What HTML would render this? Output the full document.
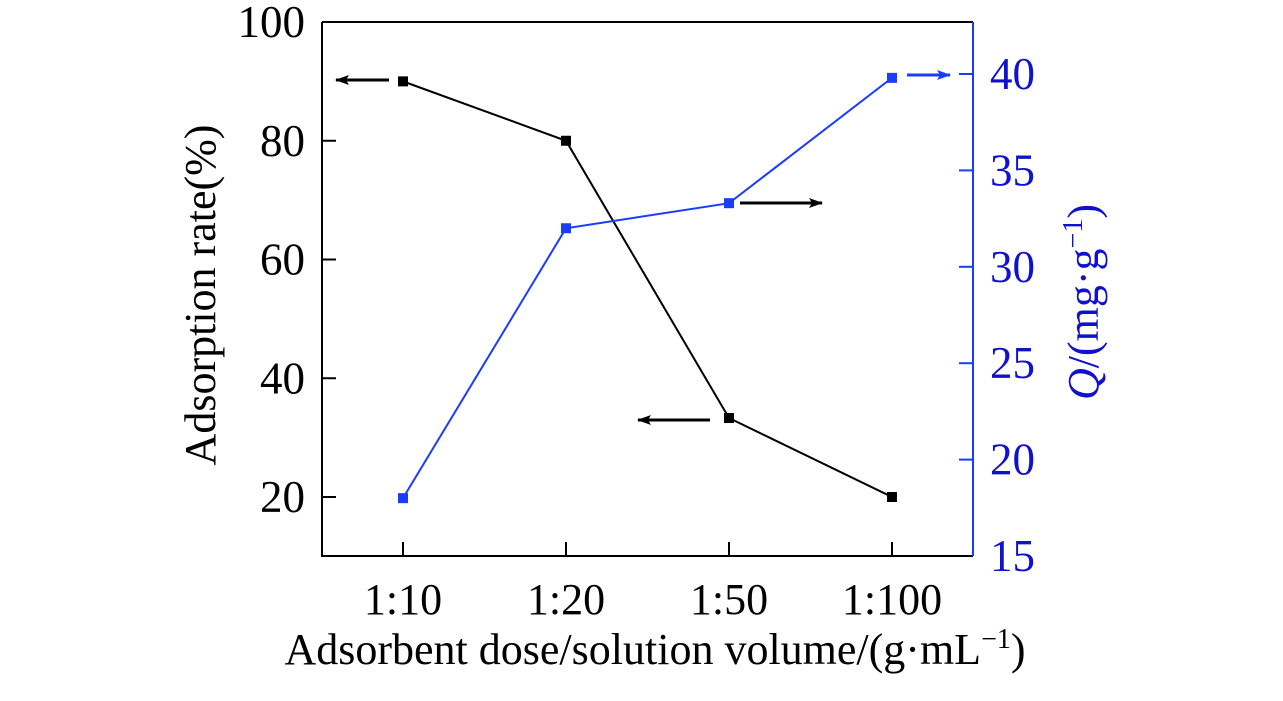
<!DOCTYPE html>
<html><head><meta charset="utf-8"><style>
html,body{margin:0;padding:0;background:#fff;}
svg{display:block;font-family:"Liberation Serif",serif;}
</style></head><body>
<svg id="chart" width="1283" height="701"></svg>
<script>
const categories=["1:10","1:20","1:50","1:100"];
const rateValues=[90,80,33.3,20];
const qValues=[18,32,33.3,39.8];
const leftTicks=[20,40,60,80,100];
const rightTicks=[15,20,25,30,35,40];
const L=322,R=973,T=22,B=556;
const xPos=i=>403+i*163;
const yL=v=>22+(100-v)*(118.75/20);
const yR=v=>B-(v-15)*(96.4/5);
const NS="http://www.w3.org/2000/svg";
const svg=document.getElementById('chart');
function mk(tag,attrs,parent){const e=document.createElementNS(NS,tag);for(const k in attrs)e.setAttribute(k,attrs[k]);(parent||svg).appendChild(e);return e;}
let e;
e=mk('path',{d:`M${L} ${T}H${R}M${L} ${T}V${B}H${R}`,stroke:'#000','stroke-width':2,fill:'none'});


e=mk('line',{x1:R,y1:T,x2:R,y2:B,stroke:'#1a3cff','stroke-width':2});


leftTicks.forEach(v=>{
 const y=yL(v);
 if(v<100){e=mk('line',{x1:L,y1:y,x2:L+14,y2:y,stroke:'#000','stroke-width':2});
 
 }
 e=mk('text',{x:305,y:y+15,'text-anchor':'end','font-size':45,fill:'#000'});e.textContent=v;
 
 
});
rightTicks.forEach(v=>{
 const y=yR(v);
 if(v>15){e=mk('line',{x1:R-14,y1:y,x2:R,y2:y,stroke:'#1a3cff','stroke-width':2});
 
 }
 e=mk('text',{x:990,y:y+15,'font-size':45,fill:'#1010d0'});e.textContent=v;
 
 
});
categories.forEach((c,i)=>{
 const x=xPos(i);
 e=mk('line',{x1:x,y1:B,x2:x,y2:B-14,stroke:'#000','stroke-width':2});
 
 
 e=mk('text',{x:x,y:614,'text-anchor':'middle','font-size':44,fill:'#000'});e.textContent=c;
 
 
});
function series(vals,yf,color,name){
 e=mk('polyline',{points:vals.map((v,i)=>xPos(i)+','+yf(v)).join(' '),fill:'none',stroke:color,'stroke-width':2});
 
 
 vals.forEach((v,i)=>{
  e=mk('rect',{x:xPos(i)-5,y:yf(v)-5,width:10,height:10,fill:color});
  
  
 });
}
series(rateValues,yL,'#000','adsorption-rate');
series(qValues,yR,'#1a3cff','q-capacity');
mk('defs',{}).innerHTML='<marker id="ak" markerWidth="14" markerHeight="10" refX="13" refY="5" orient="auto" markerUnits="userSpaceOnUse"><path d="M0 0L14 5L0 10L3 5z" fill="#000"/></marker><marker id="ab" markerWidth="14" markerHeight="10" refX="13" refY="5" orient="auto" markerUnits="userSpaceOnUse"><path d="M0 0L14 5L0 10L3 5z" fill="#1a3cff"/></marker>';
[[389,80,336,80,'#000','ak'],[710,420,638,420,'#000','ak'],[740,203,822,203,'#000','ak'],[907,75,950,75,'#1a3cff','ab']].forEach(a=>{
 e=mk('line',{x1:a[0],y1:a[1],x2:a[2],y2:a[3],stroke:a[4],'stroke-width':3,'marker-end':'url(#'+a[5]+')'});
 
 
});
e=mk('text',{x:0,y:0,transform:'translate(215 295) rotate(-90)','text-anchor':'middle','font-size':44,fill:'#000'});
e.textContent='Adsorption rate(%)';


e=mk('text',{x:0,y:0,transform:'translate(1098 302) rotate(-90)','text-anchor':'middle','font-size':44,fill:'#1010d0'});
e.innerHTML='<tspan font-style="italic">Q</tspan>/(mg·g<tspan font-size="28" dy="-16">−1</tspan><tspan dy="16">)</tspan>';


e=mk('text',{x:655,y:664,'text-anchor':'middle','font-size':44,fill:'#000'});
e.innerHTML='Adsorbent dose/solution volume/(g·mL<tspan font-size="28" dy="-16">−1</tspan><tspan dy="16">)</tspan>';


</script>
</body></html>
